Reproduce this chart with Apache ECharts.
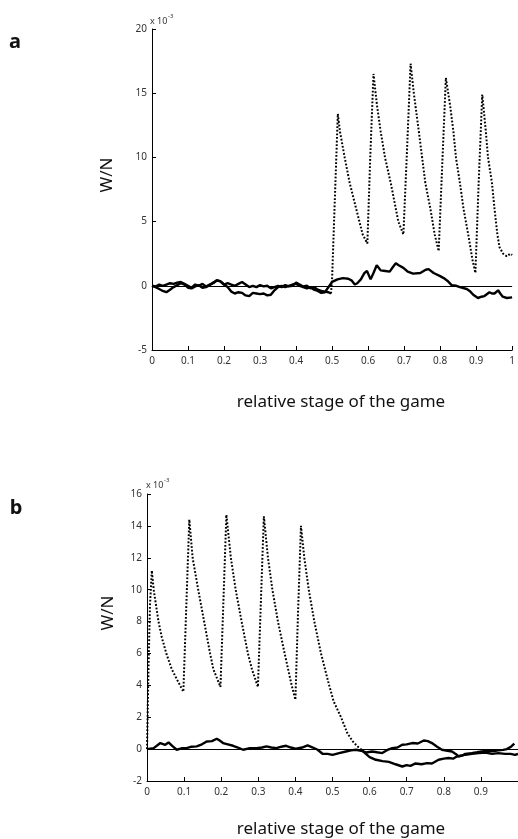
<!DOCTYPE html>
<html>
<head>
<meta charset="utf-8">
<script src="https://cdn.jsdelivr.net/npm/echarts@6/dist/echarts.min.js"></script>
<style>
html,body{margin:0;padding:0;background:#fff;}
#c{width:518px;height:839px;}
</style>
</head>
<body>
<div id="c"></div>
<script>
// ---------- DATA ----------
// Panel a: solid trace
const aSolid = [[0,0],[0.01,-0.1],[0.02,-0.25],[0.03,-0.4],[0.04,-0.5],[0.05,-0.3],[0.06,-0.1],[0.07,0.05],[0.08,0.2],[0.09,0.1],[0.1,-0.15],[0.11,-0.2],[0.12,-0.05],[0.13,0.05],[0.14,-0.15],[0.15,-0.1],[0.16,0.05],[0.17,0.25],[0.18,0.4],[0.19,0.35],[0.2,0.1],[0.21,-0.1],[0.22,-0.45],[0.23,-0.6],[0.24,-0.5],[0.25,-0.55],[0.26,-0.75],[0.27,-0.8],[0.28,-0.55],[0.29,-0.6],[0.3,-0.65],[0.31,-0.6],[0.32,-0.75],[0.33,-0.7],[0.34,-0.35],[0.35,-0.1],[0.36,0.0],[0.37,-0.1],[0.38,0.0],[0.39,0.1],[0.4,0.15],[0.41,0.0],[0.42,-0.1],[0.43,-0.2],[0.44,-0.1],[0.45,-0.3],[0.46,-0.4],[0.47,-0.55],[0.48,-0.5],[0.49,-0.1],[0.5,0.3],[0.505,0.45],[0.515,0.5],[0.53,0.6],[0.545,0.55],[0.555,0.4],[0.563,0.1],[0.57,0.2],[0.58,0.5],[0.59,1.0],[0.597,1.15],[0.607,0.5],[0.615,1.0],[0.624,1.6],[0.635,1.2],[0.648,1.15],[0.66,1.1],[0.67,1.5],[0.677,1.75],[0.685,1.6],[0.698,1.4],[0.71,1.1],[0.725,0.95],[0.745,1.0],[0.76,1.25],[0.768,1.3],[0.782,1.0],[0.8,0.75],[0.81,0.6],[0.82,0.4],[0.832,0.05],[0.845,0.0],[0.855,-0.1],[0.874,-0.25],[0.882,-0.4],[0.892,-0.7],[0.905,-0.95],[0.915,-0.85],[0.923,-0.8],[0.937,-0.5],[0.944,-0.6],[0.951,-0.6],[0.961,-0.35],[0.967,-0.6],[0.974,-0.85],[0.985,-0.95],[1.0,-0.9]];
// Panel a: dotted trace, flat part (dense points)
const aDotFlat = [[0,0],[0.01,-0.05],[0.02,0.1],[0.03,0.0],[0.04,0.1],[0.05,0.2],[0.06,0.15],[0.07,0.25],[0.08,0.3],[0.09,0.15],[0.1,0.0],[0.11,-0.15],[0.12,0.1],[0.13,0.0],[0.14,0.15],[0.15,-0.05],[0.16,0.1],[0.17,0.2],[0.18,0.45],[0.19,0.35],[0.2,0.1],[0.21,0.2],[0.22,0.1],[0.23,0.0],[0.24,0.15],[0.25,0.3],[0.26,0.1],[0.27,-0.1],[0.28,0.0],[0.29,-0.1],[0.3,0.05],[0.31,-0.05],[0.32,0.0],[0.33,-0.2],[0.34,-0.1],[0.35,0.0],[0.36,-0.1],[0.37,0.05],[0.38,-0.05],[0.39,0.0],[0.4,0.25],[0.41,0.1],[0.42,-0.05],[0.43,0.0],[0.44,-0.2],[0.45,-0.1],[0.46,-0.3],[0.47,-0.4],[0.48,-0.45],[0.49,-0.5],[0.497,-0.6]];
// Panel a: dotted trace, sawtooth part
const aDotSaw = [[0.497,-0.6],[0.5,0.5],[0.508,7],[0.516,13.4],[0.522,12],[0.535,10],[0.549,8],[0.567,6],[0.576,5],[0.585,4],[0.598,3.3],[0.606,10],[0.615,16.5],[0.625,14],[0.635,12],[0.647,10],[0.663,8],[0.677,6],[0.684,5],[0.698,4.0],[0.708,10.5],[0.718,17.3],[0.727,15],[0.741,12],[0.75,10],[0.759,8],[0.773,6],[0.785,4],[0.796,2.7],[0.806,9.5],[0.816,16.2],[0.828,14],[0.837,12],[0.844,10],[0.855,8],[0.865,6],[0.878,4],[0.89,2],[0.898,1.0],[0.907,8],[0.917,14.9],[0.927,12],[0.933,10],[0.944,8],[0.951,6],[0.959,4],[0.965,3],[0.975,2.5],[0.985,2.3],[0.995,2.5],[1.0,2.4]];
// Panel b: solid trace
const bSolid = [[0,0],[0.018,0.06],[0.036,0.38],[0.049,0.27],[0.058,0.42],[0.068,0.2],[0.08,-0.04],[0.093,0.05],[0.107,0.06],[0.12,0.15],[0.134,0.17],[0.148,0.3],[0.161,0.48],[0.175,0.5],[0.188,0.65],[0.195,0.55],[0.205,0.38],[0.218,0.3],[0.232,0.21],[0.245,0.1],[0.259,-0.04],[0.275,0.05],[0.295,0.06],[0.31,0.1],[0.322,0.17],[0.335,0.1],[0.349,0.06],[0.362,0.15],[0.375,0.21],[0.388,0.1],[0.402,0.02],[0.418,0.1],[0.433,0.23],[0.447,0.1],[0.46,-0.04],[0.473,-0.29],[0.487,-0.3],[0.5,-0.36],[0.518,-0.25],[0.536,-0.15],[0.55,-0.08],[0.563,-0.04],[0.577,-0.1],[0.59,-0.21],[0.607,-0.15],[0.62,-0.2],[0.634,-0.25],[0.648,-0.05],[0.661,0.06],[0.675,0.1],[0.688,0.27],[0.7,0.3],[0.715,0.38],[0.73,0.35],[0.746,0.54],[0.757,0.5],[0.768,0.38],[0.782,0.15],[0.795,-0.04],[0.81,-0.1],[0.822,-0.15],[0.832,-0.3],[0.84,-0.46],[0.858,-0.35],[0.876,-0.29],[0.894,-0.25],[0.912,-0.21],[0.93,-0.3],[0.947,-0.25],[0.965,-0.3],[0.98,-0.3],[0.992,-0.36],[1.0,-0.3]];
// Panel b: dotted trace, sawtooth part
const bDotSaw = [[0,0],[0.004,5],[0.008,9],[0.013,11.2],[0.018,10],[0.031,8],[0.04,7],[0.052,6],[0.067,5],[0.078,4.5],[0.089,4],[0.098,3.6],[0.106,9],[0.114,14.4],[0.123,12],[0.138,10],[0.154,8],[0.17,6],[0.179,5],[0.198,3.9],[0.206,9.3],[0.214,14.7],[0.226,12],[0.239,10],[0.255,8],[0.272,6],[0.283,5],[0.299,3.9],[0.307,9.3],[0.315,14.6],[0.326,12],[0.338,10],[0.353,8],[0.371,6],[0.39,4],[0.4,3.1],[0.407,8.5],[0.415,14.0],[0.424,12],[0.436,10],[0.451,8],[0.469,6],[0.491,4],[0.503,3],[0.523,2],[0.54,1],[0.554,0.5],[0.566,0.2],[0.576,0]];
// Panel b: dotted trace, flat part (dense points)
const bDotFlat = [[0.576,0],[0.59,-0.3],[0.6,-0.5],[0.617,-0.67],[0.635,-0.75],[0.652,-0.8],[0.67,-0.95],[0.688,-1.09],[0.7,-1.0],[0.71,-1.05],[0.724,-0.9],[0.74,-0.95],[0.755,-0.88],[0.768,-0.9],[0.786,-0.67],[0.8,-0.6],[0.813,-0.56],[0.825,-0.6],[0.835,-0.46],[0.85,-0.4],[0.858,-0.3],[0.875,-0.25],[0.89,-0.2],[0.902,-0.15],[0.92,-0.1],[0.935,-0.12],[0.947,-0.08],[0.96,-0.05],[0.97,0.0],[0.982,0.17],[0.99,0.35]];

const panelLetters = ['a','b'];
const yAxisTitle = 'W/N';
const xAxisTitle = 'relative stage of the game';
const scaleNote = 'x 10';
const scaleExp = '-3';
const aYRange = [-5, 20, 5];
const bYRange = [-2, 16, 2];
const xRange = [0, 1, 0.1];

// ---------- CHART ----------
const FONT = '"Noto Sans", "Open Sans", sans-serif';
const chart = echarts.init(document.getElementById('c'), null, {renderer:'canvas'});

function xAxisCfg(gi, hideMax){
  return {
    gridIndex: gi, type:'value', min:xRange[0], max:xRange[1], interval:xRange[2],
    axisLine:{show:true, onZero:false, lineStyle:{color:'#000', width:1}},
    axisTick:{show:true, inside:true, length:4, lineStyle:{color:'#000'}},
    axisLabel:{show:true, margin:6, color:'#333', fontSize:10, fontFamily:FONT,
      showMaxLabel: !hideMax,
      formatter: v => String(+v.toFixed(1))},
    splitLine:{show:false}
  };
}
function yAxisCfg(gi, r){
  return {
    gridIndex: gi, type:'value', min:r[0], max:r[1], interval:r[2],
    axisLine:{show:true, onZero:false, lineStyle:{color:'#000', width:1}},
    axisTick:{show:true, inside:true, length:4, lineStyle:{color:'#000'}},
    axisLabel:{show:true, margin:5, color:'#333', fontSize:10, fontFamily:FONT},
    splitLine:{show:false}
  };
}
const zeroLine = {
  silent:true, symbol:'none', animation:false,
  label:{show:false},
  lineStyle:{color:'#000', width:1, type:'solid'},
  data:[{yAxis:0}]
};
function solid(data, gi, withZero){
  const s = {type:'line', xAxisIndex:gi, yAxisIndex:gi, data:data, showSymbol:false, symbol:'none',
    lineStyle:{color:'#000', width:2.4}, animation:false, silent:true};
  if (withZero) s.markLine = zeroLine;
  return s;
}
function dotted(data, gi){
  return {type:'line', xAxisIndex:gi, yAxisIndex:gi, data:data, showSymbol:false, symbol:'none',
    lineStyle:{color:'#000', width:2, type:[1.8,1.8]}, animation:false, silent:true};
}
function txt(x, y, text, size, opts){
  return Object.assign({type:'text', x:x, y:y, silent:true,
    style:Object.assign({text:text, fill:'#111', font: size+'px '+FONT, align:'center', verticalAlign:'middle'}, (opts&&opts.style)||{})},
    opts&&opts.el||{});
}

chart.setOption({
  backgroundColor:'#fff',
  animation:false,
  grid:[
    {left:152, top:29, width:364, height:321},
    {left:147, top:494, width:373, height:287}
  ],
  xAxis:[xAxisCfg(0,false), xAxisCfg(1,true)],
  yAxis:[yAxisCfg(0,aYRange), yAxisCfg(1,bYRange)],
  series:[
    solid(aDotFlat, 0, false),
    solid(aSolid, 0, true),
    dotted(aDotSaw, 0),
    solid(bSolid, 1, true),
    dotted(bDotSaw, 1),
    solid(bDotFlat, 1, false)
  ],
  graphic:[
    txt(15, 42, panelLetters[0], 20, {style:{font:'bold 20px '+FONT}}),
    txt(16, 508, panelLetters[1], 20, {style:{font:'bold 20px '+FONT}}),
    txt(107, 175, yAxisTitle, 17, {el:{rotation:Math.PI/2}}),
    txt(108, 613, yAxisTitle, 17, {el:{rotation:Math.PI/2}}),
    txt(341, 402, xAxisTitle, 17),
    txt(341, 829, xAxisTitle, 17),
    txt(150, 21, scaleNote, 9, {style:{align:'left', fill:'#333'}}),
    txt(168, 16, scaleExp, 6, {style:{align:'left', fill:'#333'}}),
    txt(146, 485, scaleNote, 9, {style:{align:'left', fill:'#333'}}),
    txt(164, 480, scaleExp, 6, {style:{align:'left', fill:'#333'}})
  ]
});
</script>
</body>
</html>
